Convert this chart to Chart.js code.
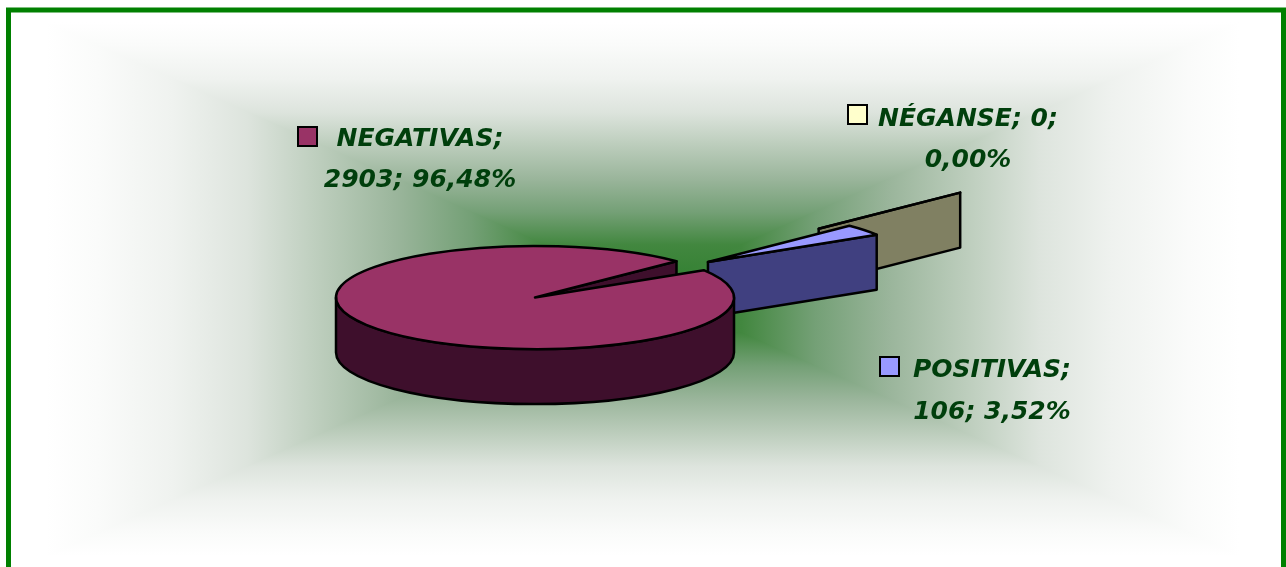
<!DOCTYPE html>
<html>
<head>
<meta charset="utf-8">
<title>Resultados</title>
<script src="https://cdn.jsdelivr.net/npm/chart.js@4"></script>
<style>
  html, body { margin: 0; padding: 0; background: #fff; overflow: hidden; }
  canvas { display: block; }
</style>
</head>
<body>
<canvas id="pie" width="1286" height="567"></canvas>
<script>
const categories = ["NEGATIVAS", "NÉGANSE", "POSITIVAS"];
const values = [2903, 0, 106];

const topColors = ["#993366", "#FFFFCC", "#9999FF"];
const sideColors = ["#3E0F2C", "#808062", "#404080"];

//how far each slice is pulled out of the pie, in px before flattening
const explode = [0, 399, 220.5];
//small extra drop of a pulled slice, the original has some perspective
const explodeDrop = [0, 4, 0];

//flattening of the circle and height of the pie
const squash = 0.259;
const depth = 55;

//where the data labels sit: key box, then the centre and baseline of the two text lines
const labelSpots = [
  { boxX: 298, boxY: 127, textX: 420, line1: 146, line2: 187, split: 1 },
  { boxX: 848, boxY: 105, textX: 968, line1: 126, line2: 167, split: 2 },
  { boxX: 880, boxY: 357, textX: 992, line1: 377, line2: 419, split: 1 },
];

const labelFont = "italic bold 25px 'Comic Sans MS', 'DejaVu Sans', sans-serif";
const labelColor = "#003F0C";

const total = values.reduce((a, b) => a + b, 0);

//Background: rectangular gradient going out from the middle of the frame
const backdrop = {
  id: "backdrop",
  beforeDraw(chart) {
    const { ctx } = chart;
    const cx = 643, cy = 289, hw = 597, hh = 267;
    const stops = [
      [0, "#2F7F2F"], [0.165, "#42873F"], [0.288, "#74A076"], [0.412, "#9AB59B"],
      [0.54, "#BCCDBC"], [0.663, "#DDE4DD"], [0.787, "#EFF2EF"], [0.914, "#FAFBFA"],
      [1, "#FFFFFF"],
    ];
    const sides = [
      [[-hw, -hh], [hw, -hh], 0, -hh],
      [[hw, -hh], [hw, hh], hw, 0],
      [[hw, hh], [-hw, hh], 0, hh],
      [[-hw, hh], [-hw, -hh], -hw, 0],
    ];
    ctx.save();
    ctx.fillStyle = "#fff";
    ctx.fillRect(0, 0, chart.width, chart.height);
    ctx.lineWidth = 1.5;
    for (const [a, b, ex, ey] of sides) {
      const g = ctx.createLinearGradient(cx, cy, cx + ex, cy + ey);
      stops.forEach(s => g.addColorStop(s[0], s[1]));
      ctx.fillStyle = g;
      ctx.strokeStyle = g;
      ctx.beginPath();
      ctx.moveTo(cx, cy);
      ctx.lineTo(cx + a[0], cy + a[1]);
      ctx.lineTo(cx + b[0], cy + b[1]);
      ctx.closePath();
      ctx.fill();
      //hides the seam between two neighbouring triangles
      ctx.stroke();
    }
    ctx.restore();
  },
  afterDraw(chart) {
    //Green frame, its bottom edge falls outside of the picture
    const { ctx } = chart;
    ctx.save();
    ctx.strokeStyle = "#008000";
    ctx.lineWidth = 5;
    ctx.strokeRect(8.5, 10, 1275, 620);
    ctx.restore();
  },
};

//Chart.js has no 3d pie, so the arcs it lays out are painted flattened and extruded
const pie3d = {
  id: "pie3d",
  beforeDatasetsDraw(chart) {
    const { ctx } = chart;
    const arcs = chart.getDatasetMeta(0).data.map((arc, i) => ({ arc, i }));
    //back slices first
    arcs.sort((a, b) => explode[b.i] - explode[a.i]);

    ctx.save();
    ctx.lineWidth = 2.5;
    ctx.lineJoin = "round";
    ctx.strokeStyle = "#000";

    for (const { arc, i } of arcs) {
      const r = arc.outerRadius;
      const start = arc.startAngle;
      const end = arc.endAngle;
      const mid = (start + end) / 2;
      const x = arc.x + Math.cos(mid) * explode[i];
      const y = arc.y + Math.sin(mid) * explode[i] * squash + explodeDrop[i];
      const rimX = a => x + Math.cos(a) * r;
      const rimY = a => y + Math.sin(a) * r * squash;

      const wall = (a) => {
        ctx.beginPath();
        ctx.moveTo(x, y);
        ctx.lineTo(rimX(a), rimY(a));
        ctx.lineTo(rimX(a), rimY(a) + depth);
        ctx.lineTo(x, y + depth);
        ctx.closePath();
        ctx.fillStyle = sideColors[i];
        ctx.fill();
        ctx.stroke();
      };

      //only the walls looking at the viewer
      if (Math.cos(start) < 0) wall(start);
      if (Math.cos(end) > 0) wall(end);

      //outer rim, front half only
      const from = Math.max(start, 0);
      const to = Math.min(end, Math.PI);
      if (to > from) {
        ctx.beginPath();
        ctx.ellipse(x, y, r, r * squash, 0, from, to);
        ctx.lineTo(rimX(to), rimY(to) + depth);
        ctx.ellipse(x, y + depth, r, r * squash, 0, to, from, true);
        ctx.closePath();
        ctx.fillStyle = sideColors[i];
        ctx.fill();
        ctx.stroke();
      }

      //top face
      ctx.beginPath();
      ctx.moveTo(x, y);
      ctx.ellipse(x, y, r, r * squash, 0, start, end);
      ctx.closePath();
      ctx.fillStyle = topColors[i];
      ctx.fill();
      ctx.stroke();
    }
    ctx.restore();
    //the default flat arcs are not wanted
    return false;
  },
  afterDraw(chart) {
    const { ctx } = chart;
    ctx.save();
    ctx.font = labelFont;
    ctx.textAlign = "center";
    labelSpots.forEach((spot, i) => {
      ctx.fillStyle = topColors[i];
      ctx.strokeStyle = "#000";
      ctx.lineWidth = 2;
      ctx.fillRect(spot.boxX, spot.boxY, 19, 19);
      ctx.strokeRect(spot.boxX, spot.boxY, 19, 19);

      const percent = (values[i] / total * 100).toFixed(2).replace(".", ",") + "%";
      const parts = [categories[i] + ";", values[i] + ";", percent];
      ctx.fillStyle = labelColor;
      ctx.fillText(parts.slice(0, spot.split).join(" "), spot.textX, spot.line1);
      ctx.fillText(parts.slice(spot.split).join(" "), spot.textX, spot.line2);
    });
    ctx.restore();
  },
};

const chartData = {
  labels: categories,
  datasets: [
    {
      data: values,
      backgroundColor: topColors,
      borderColor: "#000",
      clip: false,
    },
  ],
};

const chartConfig = {
  type: "pie",
  data: chartData,
  plugins: [backdrop, pie3d],
  options: {
    responsive: false,
    animation: false,
    rotation: 58,
    radius: 199,
    //moves the middle of the pie to where it sits in the frame
    layout: { padding: { top: 28, right: 216 } },
    plugins: {
      legend: { display: false },
      tooltip: { enabled: false },
    },
  },
};

const myChart = new Chart(document.getElementById("pie"), chartConfig);
</script>
</body>
</html>
